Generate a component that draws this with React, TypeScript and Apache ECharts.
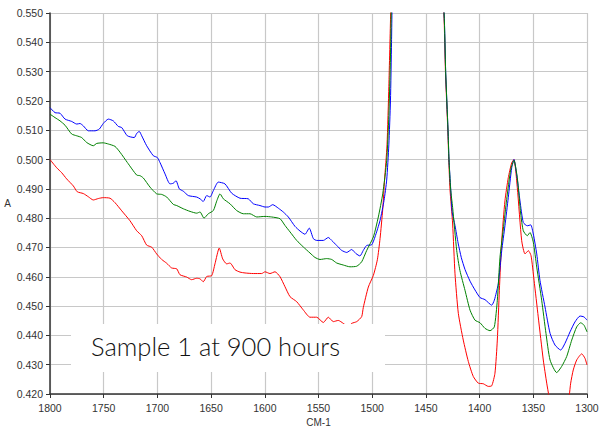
import React, { useEffect, useRef } from "react";
import * as echarts from "echarts";

// wavenumber (cm-1), absorbance
const redSeries: [number, number][] = [
  [1800, 0.5], [1793.8, 0.4972], [1789.1, 0.4955], [1784.5, 0.4934], [1778.3, 0.491], [1774.6, 0.489],
  [1769.0, 0.4884], [1764.3, 0.4873], [1759.7, 0.4862], [1755.0, 0.4867], [1750.4, 0.487], [1744.1, 0.4868],
  [1739.5, 0.4853], [1733.2, 0.4825], [1725.5, 0.4791], [1719.3, 0.4757], [1714.6, 0.474], [1710.0, 0.4708],
  [1705.3, 0.4701], [1700.7, 0.4678], [1696.0, 0.4659], [1691.3, 0.4646], [1686.7, 0.463], [1682.0, 0.4627],
  [1679.0, 0.4607], [1672.7, 0.4599], [1668.1, 0.459], [1663.4, 0.4595], [1660.3, 0.4593], [1657.3, 0.4583],
  [1654.1, 0.4601], [1649.4, 0.4604], [1646.4, 0.4644], [1642.4, 0.4698], [1639.2, 0.4661], [1635.5, 0.4644],
  [1632.4, 0.4647], [1627.7, 0.4624], [1623.1, 0.4616], [1618.4, 0.4613], [1610.7, 0.4611], [1602.9, 0.4611],
  [1599.8, 0.4617], [1595.2, 0.4611], [1590.5, 0.4617], [1585.8, 0.46], [1581.2, 0.4566], [1576.5, 0.4532],
  [1570.3, 0.4515], [1564.2, 0.4487], [1557.9, 0.4462], [1551.7, 0.4462], [1545.5, 0.4444], [1540.9, 0.4462],
  [1536.2, 0.4447], [1531.6, 0.4451], [1526.9, 0.4441], [1522.5, 0.443], [1519.1, 0.4441], [1514.4, 0.4447],
  [1509.8, 0.4464], [1508.3, 0.4495], [1503.6, 0.4565], [1498.9, 0.4605], [1495.2, 0.4658], [1492.7, 0.473],
  [1490.2, 0.483], [1488.5, 0.493], [1486.2, 0.505], [1484.5, 0.525], [1482.8, 0.55], [1482.0, 0.56],
  [1457.4, 0.7], [1433.3, 0.55], [1431.8, 0.53], [1429.6, 0.51], [1428.7, 0.5], [1427.6, 0.49],
  [1425.1, 0.478], [1422.9, 0.461], [1419.8, 0.4475], [1415.2, 0.4384], [1410.5, 0.4311], [1405.9, 0.426],
  [1401.2, 0.4237], [1396.6, 0.4235], [1391.9, 0.4226], [1388.7, 0.4228], [1385.7, 0.4271], [1383.5, 0.4384],
  [1381.6, 0.4554], [1379.4, 0.4723], [1376.4, 0.4859], [1373.3, 0.4938], [1370.1, 0.4989], [1368.0, 0.5],
  [1364.9, 0.4904], [1360.8, 0.4723], [1357.7, 0.4678], [1354.6, 0.4689], [1352.1, 0.4672], [1349.3, 0.4588],
  [1345.4, 0.4463], [1340.7, 0.4316], [1337.5, 0.4237], [1335.4, 0.4192], [1331.7, 0.412], [1323.3, 0.409],
  [1319.6, 0.412], [1316.5, 0.4195], [1315.2, 0.4237], [1312.8, 0.4282], [1309.6, 0.4316], [1304.9, 0.4337],
  [1301.9, 0.4322], [1300, 0.4299],
];

const blueSeries: [number, number][] = [
  [1800, 0.5177], [1795.3, 0.516], [1790.7, 0.5158], [1786.0, 0.5138], [1779.8, 0.513], [1775.1, 0.5121],
  [1772.1, 0.5123], [1769.0, 0.5115], [1764.3, 0.5098], [1758.1, 0.5098], [1754.1, 0.5104], [1750.4, 0.5123],
  [1745.7, 0.5138], [1741.1, 0.5132], [1736.4, 0.5113], [1733.2, 0.5109], [1728.0, 0.5081], [1721.5, 0.5075],
  [1719.3, 0.5089], [1716.9, 0.5096], [1714.6, 0.5081], [1710.0, 0.5047], [1703.8, 0.5013], [1700.1, 0.5007],
  [1697.6, 0.499], [1692.9, 0.4951], [1688.3, 0.4917], [1685.2, 0.4919], [1682.7, 0.4928], [1679.6, 0.49],
  [1675.9, 0.4892], [1671.2, 0.4877], [1663.4, 0.4872], [1660.3, 0.4866], [1657.3, 0.4857], [1654.1, 0.4877],
  [1651.0, 0.4872], [1647.9, 0.4894], [1643.3, 0.4923], [1637.1, 0.4917], [1630.8, 0.4885], [1623.1, 0.4868],
  [1615.4, 0.4866], [1610.7, 0.4849], [1604.5, 0.4843], [1599.8, 0.4838], [1596.7, 0.4838], [1592.6, 0.4846],
  [1587.4, 0.4834], [1582.8, 0.4821], [1578.1, 0.4804], [1571.9, 0.4772], [1567.2, 0.4756], [1562.6, 0.4745],
  [1558.6, 0.4766], [1554.8, 0.473], [1551.7, 0.4724], [1545.5, 0.4724], [1540.9, 0.4734], [1537.7, 0.4724],
  [1533.1, 0.4707], [1528.4, 0.469], [1523.7, 0.4683], [1519.1, 0.4693], [1515.1, 0.4679], [1511.4, 0.4671],
  [1508.3, 0.469], [1505.1, 0.4707], [1500.5, 0.4709], [1497.4, 0.4736], [1492.7, 0.4792], [1489.0, 0.486],
  [1486.5, 0.493], [1484.5, 0.505], [1483.0, 0.52], [1482.0, 0.54], [1481.6, 0.55], [1481.1, 0.56],
  [1457.4, 0.7], [1433.1, 0.55], [1431.6, 0.53], [1429.4, 0.51], [1428.5, 0.5], [1426.9, 0.49],
  [1425.5, 0.482], [1422.9, 0.4775], [1420.0, 0.4715], [1417.0, 0.4665], [1413.6, 0.4625], [1408.9, 0.4585],
  [1404.3, 0.4555], [1399.6, 0.4529], [1395.0, 0.4522], [1388.7, 0.4503], [1386.3, 0.452], [1384.5, 0.4545],
  [1382.6, 0.4576], [1379.4, 0.4689], [1376.4, 0.4774], [1373.3, 0.487], [1370.1, 0.4972], [1368.0, 0.5],
  [1365.5, 0.4949], [1362.4, 0.4859], [1359.3, 0.4785], [1355.6, 0.4774], [1352.4, 0.4777], [1350.0, 0.4746],
  [1346.8, 0.4678], [1343.8, 0.4588], [1339.1, 0.4497], [1334.4, 0.4407], [1329.8, 0.4367], [1324.5, 0.435],
  [1320.5, 0.4373], [1315.8, 0.4412], [1311.2, 0.4446], [1306.5, 0.4466], [1302.8, 0.4463], [1300, 0.4452],
];

const greenSeries: [number, number][] = [
  [1800, 0.5155], [1795.3, 0.5143], [1790.7, 0.5132], [1786.0, 0.5117], [1779.8, 0.5087], [1775.1, 0.5081],
  [1770.5, 0.5075], [1765.8, 0.5058], [1759.7, 0.5047], [1756.5, 0.5055], [1750.4, 0.5057], [1745.7, 0.5053],
  [1739.5, 0.5045], [1734.8, 0.5025], [1728.0, 0.499], [1719.3, 0.4947], [1716.2, 0.4945], [1713.1, 0.4937],
  [1706.9, 0.4906], [1700.7, 0.4883], [1696.0, 0.4881], [1691.3, 0.4872], [1685.2, 0.4847], [1682.0, 0.4843],
  [1675.9, 0.4832], [1669.6, 0.4823], [1663.4, 0.4817], [1660.3, 0.4821], [1656.6, 0.48], [1652.6, 0.4815],
  [1647.9, 0.4826], [1644.8, 0.4858], [1641.7, 0.4883], [1638.6, 0.4866], [1632.4, 0.4849], [1626.2, 0.4826],
  [1620.0, 0.4815], [1613.8, 0.4815], [1607.5, 0.4804], [1599.8, 0.4806], [1593.6, 0.4804], [1585.8, 0.4798],
  [1581.2, 0.4775], [1576.5, 0.4753], [1570.3, 0.4724], [1564.2, 0.4702], [1557.9, 0.4681], [1553.3, 0.4666],
  [1548.6, 0.4659], [1542.4, 0.4662], [1537.7, 0.4659], [1533.1, 0.4647], [1526.9, 0.464], [1520.7, 0.4634],
  [1514.4, 0.4636], [1509.8, 0.4651], [1505.1, 0.469], [1498.9, 0.4736], [1494.3, 0.4804], [1490.2, 0.4883],
  [1486.5, 0.4996], [1484.5, 0.515], [1483.0, 0.535], [1482.3, 0.55], [1481.6, 0.56],
  [1457.4, 0.7], [1433.1, 0.55], [1431.6, 0.53], [1429.4, 0.51], [1428.5, 0.5], [1427.0, 0.49],
  [1425.1, 0.4836], [1421.3, 0.4689], [1418.3, 0.4621], [1413.6, 0.4554], [1408.9, 0.4486], [1404.3, 0.4452],
  [1399.6, 0.4443], [1395.0, 0.4424], [1390.3, 0.4416], [1386.3, 0.4429], [1383.5, 0.452], [1381.0, 0.4667],
  [1377.9, 0.4763], [1374.8, 0.4864], [1371.0, 0.4966], [1368.0, 0.4997], [1364.9, 0.4938], [1361.7, 0.4814],
  [1359.3, 0.4757], [1355.6, 0.474], [1353.1, 0.4751], [1350.0, 0.4718], [1346.8, 0.4633], [1342.2, 0.452],
  [1338.2, 0.4407], [1334.4, 0.4316], [1328.2, 0.4273], [1323.6, 0.4294], [1318.9, 0.4328], [1314.2, 0.4384],
  [1309.6, 0.4429], [1305.9, 0.4443], [1302.8, 0.4435], [1300, 0.4412],
];

const xAxisName = "CM-1";
const yAxisName = "A";
const annotation = "Sample 1 at 900 hours";
const xMin = 1300;
const xMax = 1800;
const xStep = 50;
const yMin = 0.42;
const yMax = 0.55;
const yStep = 0.01;

export default function App() {
  const ref = useRef<HTMLDivElement>(null);
  useEffect(() => {
    if (!ref.current) return;
    const chart = echarts.init(ref.current, undefined, { renderer: "svg" });
    const labelFont = "Arial, 'Liberation Sans', sans-serif";
    const lineSeries = (name: string, data: [number, number][], color: string) => ({
      name,
      type: "line",
      data,
      showSymbol: false,
      symbol: "none",
      smooth: 0.2,
      clip: true,
      lineStyle: { color, width: 1 },
      z: 3,
    });
    chart.setOption({
      animation: false,
      backgroundColor: "#ffffff",
      grid: {
        left: 50,
        right: 12,
        top: 13,
        bottom: 33,
        containLabel: false,
        outerBoundsMode: "none",
      },
      xAxis: {
        type: "value",
        min: xMin,
        max: xMax,
        interval: xStep,
        inverse: true,
        name: xAxisName,
        nameLocation: "middle",
        nameGap: 22,
        nameTextStyle: { fontFamily: labelFont, fontSize: 10, color: "#333" },
        axisLine: { show: true, lineStyle: { color: "#333", width: 1.5 } },
        axisTick: { show: true, length: 4, lineStyle: { color: "#333" } },
        axisLabel: {
          fontFamily: labelFont,
          fontSize: 10.5,
          color: "#333",
          margin: 8,
          formatter: (v: number) => String(v),
        },
        splitLine: { show: true, lineStyle: { color: "#c8c8c8", width: 1.2 } },
      },
      yAxis: {
        type: "value",
        min: yMin,
        max: yMax,
        interval: yStep,
        name: yAxisName,
        nameLocation: "middle",
        nameRotate: 0,
        nameGap: 36,
        nameTextStyle: { fontFamily: labelFont, fontSize: 10, color: "#333" },
        axisLine: { show: true, lineStyle: { color: "#333", width: 1.5 } },
        axisTick: { show: true, length: 4, lineStyle: { color: "#333" } },
        axisLabel: {
          fontFamily: labelFont,
          fontSize: 10.5,
          color: "#333",
          margin: 7,
          formatter: (v: number) => v.toFixed(3),
        },
        splitLine: { show: true, lineStyle: { color: "#c8c8c8", width: 1.2 } },
      },
      graphic: [
        {
          type: "rect",
          left: 71,
          top: 324,
          z: 100,
          shape: { width: 314, height: 48 },
          style: { fill: "#ffffff" },
        },
        {
          type: "text",
          left: 91,
          top: 333,
          z: 101,
          style: {
            text: annotation,
            fill: "#111",
            font: "300 25.5px Lato, 'Open Sans', sans-serif",
          },
        },
      ],
      series: [
        lineSeries("red", redSeries, "#ff0000"),
        lineSeries("blue", blueSeries, "#0000ff"),
        lineSeries("green", greenSeries, "#008000"),
      ],
    });
    return () => chart.dispose();
  }, []);
  return (
    <div
      ref={ref}
      style={{ position: "fixed", left: 0, top: 0, width: 599, height: 427, background: "#fff" }}
    />
  );
}
